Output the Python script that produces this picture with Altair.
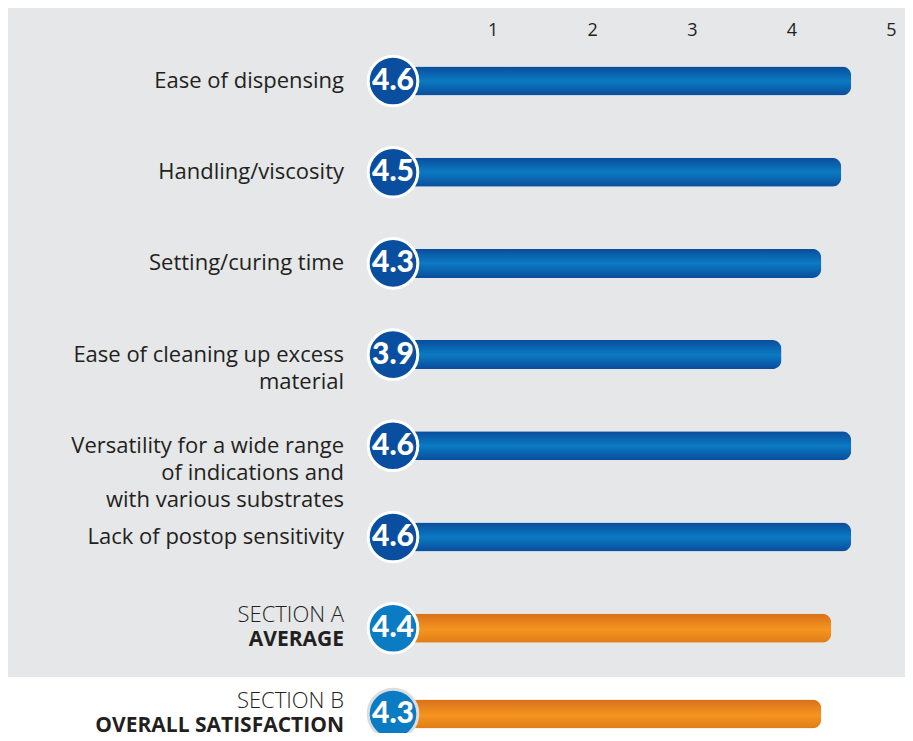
import altair as alt
import pandas as pd

# ---- data ----
label_lines = [
    ["Ease of dispensing"],
    ["Handling/viscosity"],
    ["Setting/curing time"],
    ["Ease of cleaning up excess", "material"],
    ["Versatility for a wide range", "of indications and", "with various substrates"],
    ["Lack of postop sensitivity"],
]
scores = [4.6, 4.5, 4.3, 3.9, 4.6, 4.6]
section_a = ["SECTION A", "AVERAGE"]
section_a_score = [4.4]
section_b = ["SECTION B", "OVERALL SATISFACTION"]
section_b_score = [4.3]
tick_values = [1, 2, 3, 4, 5]

n = len(scores)
items = pd.DataFrame({"row": list(range(n)), "label": label_lines, "score": scores})
items["txt"] = items["score"].map(lambda v: f"{v:.1f}")
avgs = pd.DataFrame({
    "row": [n, n + 0.94],
    "top": [section_a[0], section_b[0]],
    "bottom": [section_a[1], section_b[1]],
    "score": section_a_score + section_b_score,
    "ring": ["white", "#dcdde0"],
})
avgs["txt"] = avgs["score"].map(lambda v: f"{v:.1f}")
band = pd.DataFrame({"y0": [n + 0.535]})  # white band behind section B

# ---- styles ----
W = 897
H = 725
ROW = 91.2
Y0 = 73  # pixel centre of first row
X0 = 385  # pixel of value 0
UNIT = 99.6
FONT = "Open Sans"
NUMFONT = "Lato"
INK = "#231f20"

xdom = [-X0 / UNIT, (W - X0) / UNIT]
ydom = [-Y0 / ROW, (H - Y0) / ROW]
xscale = alt.Scale(domain=xdom, nice=False, zero=False, padding=0)
yscale = alt.Scale(domain=ydom, reverse=True, nice=False, zero=False, padding=0)

blue_grad = alt.Gradient(
    gradient="linear", x1=0, x2=0, y1=0, y2=1,
    stops=[alt.GradientStop(color="#0a4d9c", offset=0),
           alt.GradientStop(color="#0b7ac2", offset=0.5),
           alt.GradientStop(color="#0a4d9c", offset=1)])
orange_grad = alt.Gradient(
    gradient="linear", x1=0, x2=0, y1=0, y2=1,
    stops=[alt.GradientStop(color="#d8701a", offset=0),
           alt.GradientStop(color="#f5951f", offset=0.55),
           alt.GradientStop(color="#e07c18", offset=1)])

top_axis = alt.Axis(orient="top", offset=-31, values=tick_values, domain=False, ticks=False,
                    grid=False, labelFont=FONT, labelFontSize=18, labelColor=INK,
                    labelPadding=0, format="d", title=None)

Yrow = alt.Y("row:Q", scale=yscale, axis=None)
Xzero = alt.XDatum(0, type="quantitative", scale=xscale, axis=top_axis)

white_band = alt.Chart(band).mark_rect(color="white").encode(
    x=alt.XDatum(xdom[0], type="quantitative", scale=xscale, axis=top_axis),
    x2=alt.X2Datum(xdom[1]),
    y=alt.Y("y0:Q", scale=yscale, axis=None),
    y2=alt.Y2Datum(ydom[1]),
)

item_bars = alt.Chart(items).mark_bar(size=29, cornerRadiusEnd=9, color=blue_grad,
                                      orient="horizontal").encode(
    x=alt.X("score:Q", scale=xscale, axis=top_axis), y=Yrow)
avg_bars = alt.Chart(avgs).mark_bar(size=29, cornerRadiusEnd=9, color=orange_grad,
                                    orient="horizontal").encode(
    x=alt.X("score:Q", scale=xscale, axis=top_axis), y=Yrow)

item_circles = alt.Chart(items).mark_circle(size=2460, opacity=1, color="#0a4f9f",
                                            stroke="white", strokeWidth=3).encode(x=Xzero, y=Yrow)
avg_circles = alt.Chart(avgs).mark_circle(size=2460, opacity=1, color="#0b7cc3",
                                          strokeWidth=3).encode(
    x=Xzero, y=Yrow, stroke=alt.Stroke("ring:N", scale=None))


def num_text(df):
    return alt.Chart(df).mark_text(font=NUMFONT, fontWeight=900, fontSize=30, color="white",
                                   baseline="middle", align="center").encode(
        x=Xzero, y=Yrow, text="txt:N")


item_labels = alt.Chart(items).mark_text(
    font=FONT, fontSize=22, color=INK, align="right", baseline="middle", dx=-49, lineHeight=27
).encode(x=Xzero, y=Yrow, text="label")

sec_top = alt.Chart(avgs).mark_text(font=FONT, fontWeight=300, fontSize=22, color=INK,
                                    align="right", baseline="middle", dx=-49, dy=-13).encode(
    x=Xzero, y=Yrow, text="top:N")
sec_bottom = alt.Chart(avgs).mark_text(font=FONT, fontWeight="bold", fontSize=21, color=INK,
                                       align="right", baseline="middle", dx=-49, dy=12).encode(
    x=Xzero, y=Yrow, text="bottom:N")

chart = alt.layer(
    white_band, item_bars, avg_bars, item_circles, avg_circles,
    num_text(items), num_text(avgs), item_labels, sec_top, sec_bottom,
).properties(
    width=W, height=H, padding=0,
    autosize=alt.AutoSizeParams(type="none"),
).configure_view(fill="#e6e7e8", strokeWidth=0)

chart.save("out.html", embed_options={"renderer": "svg", "actions": False})
